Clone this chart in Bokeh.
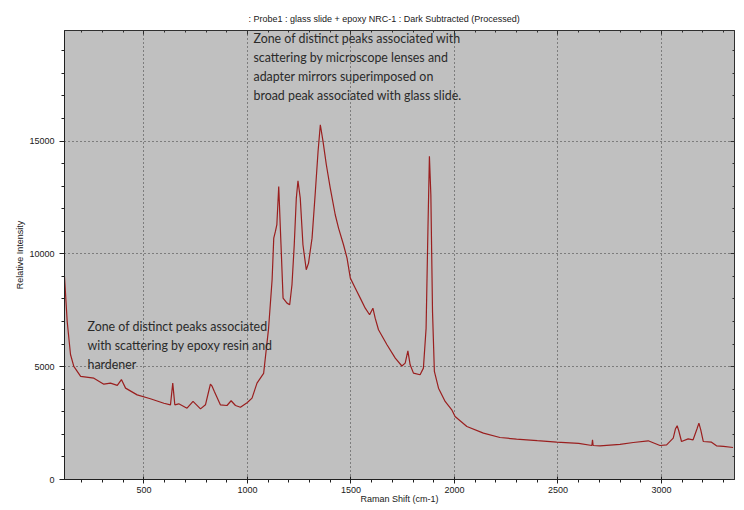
from bokeh.plotting import figure
from bokeh.models import LinearAxis, SingleIntervalTicker, Range1d, CustomLabelingPolicy
from bokeh.core.properties import value
from bokeh.embed import file_html
from bokeh.resources import INLINE

# ---- data ----
raman_shift = [116, 129, 145, 161, 194, 258, 306, 338, 371, 391, 411, 467, 531, 596,
               628, 639, 649, 668, 708, 737, 773, 797, 815, 821, 828, 840, 869, 901, 921, 942,
               966, 998, 1022, 1046, 1078, 1102, 1119, 1127, 1135, 1142, 1151, 1162,
               1172, 1191, 1204, 1215, 1226, 1236, 1244, 1255, 1268, 1284, 1295, 1312,
               1328, 1341, 1352, 1365, 1381, 1400, 1424, 1440, 1464, 1481, 1497, 1521,
               1545, 1569, 1590, 1606, 1617, 1633, 1674, 1714, 1746, 1762, 1775, 1786,
               1802, 1834, 1850, 1863, 1872, 1879, 1886, 1894, 1903, 1923, 1955, 1987,
               2003, 2060, 2140, 2220, 2300, 2349, 2400, 2494, 2600, 2664, 2667, 2670,
               2703, 2800, 2864, 2936, 2993, 3025, 3057, 3068, 3076, 3084, 3097, 3129, 3153,
               3172, 3181, 3190, 3202, 3242, 3266, 3300, 3346]
intensity = [9000, 7000, 5540, 5010, 4570, 4490, 4225, 4270, 4170, 4430, 4050, 3750, 3580, 3380,
             3310, 4270, 3310, 3355, 3160, 3460, 3130, 3310, 4000, 4225, 4150, 3900, 3310, 3280,
             3490, 3280,
             3200, 3400, 3606, 4270, 4700, 6700, 8850, 10697, 10994, 11300, 12990, 10404,
             8039, 7817, 7743, 8630, 10404, 12472, 13242, 12472, 10404, 9296, 9591, 10697,
             12767, 14540, 15724, 14984, 13951, 12914, 11734, 11143, 10404, 9814, 8925, 8481,
             8038, 7594, 7300, 7594, 7152, 6636, 5971, 5379, 5030, 5157, 5705, 5084,
             4714, 4641, 4936, 6707, 11143, 14330, 12620, 7447, 4788, 4047, 3458, 3090,
             2793, 2349, 2053, 1862, 1790, 1759, 1720, 1655, 1600, 1507, 1760, 1507,
             1493, 1560, 1640, 1715, 1507, 1537, 1833, 2250, 2381, 2150, 1685, 1803, 1759,
             2250, 2496, 2200, 1685, 1655, 1493, 1470, 1419]

title_text = ": Probe1 : glass slide + epoxy NRC-1 : Dark Subtracted (Processed)"
x_label = "Raman Shift (cm-1)"
y_label = "Relative Intensity"

note_top = ["Zone of distinct peaks associated with",
            "scattering by microscope lenses and",
            "adapter mirrors superimposed on",
            "broad peak associated with glass slide."]
note_top_x = [1029, 1029, 1029, 1029]
note_top_y = [19550, 18708, 17866, 17024]

note_low = ["Zone of distinct peaks associated",
            "with scattering by epoxy resin and",
            "hardener"]
note_low_x = [227, 227, 227]
note_low_y = [6760, 5918, 5076]

x_min, x_max = 116, 3353
y_min, y_max = 0, 19900

# ---- figure ----
p = figure(width=744, height=510, output_backend="svg", toolbar_location=None,
           x_range=Range1d(x_min, x_max), y_range=Range1d(y_min, y_max),
           min_border_left=64, min_border_right=10, min_border_top=30, min_border_bottom=31,
           x_axis_location=None, y_axis_location=None)
p.background_fill_color = "#c0c0c0"
p.border_fill_color = "white"
p.outline_line_color = "#303030"
p.outline_line_width = 1

xt = SingleIntervalTicker(interval=500, num_minor_ticks=5)
yt = SingleIntervalTicker(interval=5000, num_minor_ticks=5)

font = "Liberation Sans"
dark = "#202020"

xb = LinearAxis(ticker=xt, axis_label=x_label)
xb.axis_label_text_font = font
xb.axis_label_text_font_size = "9px"
xb.axis_label_text_font_style = "normal"
xb.axis_label_text_color = dark
xb.axis_label_standoff = -2
xb.major_label_text_font = font
xb.major_label_text_font_size = "9px"
xb.major_label_text_color = dark
xb.major_label_standoff = 3
xb.major_tick_in = 3
xb.major_tick_out = 4
xb.minor_tick_in = 0
xb.minor_tick_out = 3
xb.axis_line_color = dark
xb.major_tick_line_color = dark
xb.minor_tick_line_color = dark
p.add_layout(xb, "below")

yl = LinearAxis(ticker=yt, axis_label=y_label)
yl.axis_label_text_font = font
yl.axis_label_text_font_size = "9px"
yl.axis_label_text_font_style = "normal"
yl.axis_label_text_color = dark
yl.axis_label_standoff = 1
yl.major_label_text_font = font
yl.major_label_text_font_size = "9px"
yl.major_label_text_color = dark
yl.major_label_standoff = 5
yl.major_tick_in = 0
yl.major_tick_out = 5
yl.minor_tick_in = 0
yl.minor_tick_out = 3
yl.axis_line_color = dark
yl.major_tick_line_color = dark
yl.minor_tick_line_color = dark
p.add_layout(yl, "left")

xa = LinearAxis(ticker=xt, major_label_policy=CustomLabelingPolicy(code="return []"))
xa.major_label_text_font_size = "1px"
xa.major_label_standoff = 0
xa.major_tick_in = 4
xa.major_tick_out = 0
xa.minor_tick_in = 2
xa.minor_tick_out = 0
xa.axis_line_color = "#303030"
xa.major_tick_line_color = "#303030"
xa.minor_tick_line_color = "#303030"
p.add_layout(xa, "above")

yr = LinearAxis(ticker=yt, major_label_policy=CustomLabelingPolicy(code="return []"))
yr.major_label_text_font_size = "1px"
yr.major_label_standoff = 0
yr.major_tick_in = 4
yr.major_tick_out = 0
yr.minor_tick_in = 2
yr.minor_tick_out = 0
yr.axis_line_color = "#303030"
yr.major_tick_line_color = "#303030"
yr.minor_tick_line_color = "#303030"
p.add_layout(yr, "right")

p.xgrid.ticker = xt
p.ygrid.ticker = yt
for g in (p.xgrid, p.ygrid):
    g.grid_line_color = "#3a3a3a"
    g.grid_line_dash = "1 3"
    g.grid_line_width = 1

p.title.text = title_text
p.title.align = "left"
p.title.offset = 184
p.title.text_font = font
p.title.text_font_size = "9px"
p.title.text_font_style = "normal"
p.title.text_color = dark
p.title.standoff = 6

p.line(raman_shift, intensity, line_color="#9a1f1f", line_width=1.2)

p.text(note_top_x, note_top_y, text=note_top, text_font=value("Lato"),
       text_font_size="12.4px", text_baseline="middle", text_color="#2a2a2a")
p.text(note_low_x, note_low_y, text=note_low, text_font=value("Lato"),
       text_font_size="12.4px", text_baseline="middle", text_color="#2a2a2a")

open("out.html", "w").write(file_html(p, INLINE))
